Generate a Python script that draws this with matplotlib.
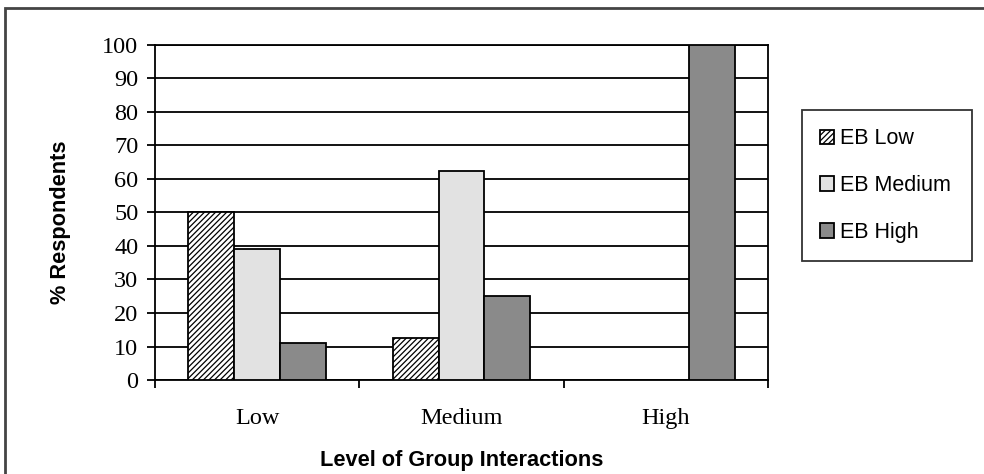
import matplotlib.pyplot as plt
from matplotlib.patches import Rectangle
import numpy as np

# data
categories = ["Low", "Medium", "High"]
series_names = ["EB Low", "EB Medium", "EB High"]
eb_low = [50, 12.5, 0]
eb_medium = [39, 62.5, 0]
eb_high = [11, 25, 100]

fig = plt.figure(figsize=(9.84, 4.74), dpi=100)
ax = fig.add_axes([0.1575, 0.1983, 0.623, 0.7068])

x = np.arange(len(categories)) + 0.5
w = 0.225
plt.rcParams['hatch.linewidth'] = 0.9

styles = [
    dict(facecolor="white", hatch="//////"),
    dict(facecolor="#e2e2e2", hatch=None),
    dict(facecolor="#8a8a8a", hatch=None),
]
for i, (vals, name, st) in enumerate(zip([eb_low, eb_medium, eb_high], series_names, styles)):
    ax.bar(x + (i - 1) * w, vals, w, label=name, edgecolor="black", linewidth=1.3,
           zorder=3, **st)

ax.set_xlim(0, 3)
ax.set_ylim(0, 100)
ax.set_yticks(range(0, 101, 10))
ax.yaxis.grid(True, color="black", linewidth=1.3, zorder=0)
ax.set_axisbelow(True)

# category ticks at boundaries, labels at centres
ax.set_xticks([0, 1, 2, 3])
ax.set_xticklabels([])
ax.set_xticks(x, minor=True)
ax.set_xticklabels(categories, minor=True, family="Liberation Serif", fontsize=17.5)
ax.tick_params(axis="x", which="major", direction="out", length=6, width=1.3)
ax.tick_params(axis="x", which="minor", length=0, pad=20)
ax.tick_params(axis="y", direction="out", length=6, width=1.3, pad=6)
for lab in ax.get_yticklabels():
    lab.set_family("Liberation Serif")
    lab.set_fontsize(17.5)

for s in ax.spines.values():
    s.set_linewidth(1.3)

ax.set_ylabel("% Respondents", family="Liberation Sans", fontweight="bold", fontsize=15.7)
ax.yaxis.set_label_coords(-0.137, 0.47)
ax.set_xlabel("Level of Group Interactions", family="Liberation Sans",
              fontweight="bold", fontsize=15.7, labelpad=15)

leg = ax.legend(loc="upper left", bbox_to_anchor=(802 / 984, 1 - 257 / 474, 170 / 984, 147 / 474),
                bbox_transform=fig.transFigure, mode="expand",
                prop={"family": "Liberation Sans", "size": 15.5},
                frameon=True, fancybox=False, edgecolor="black",
                handlelength=0.65, handleheight=0.65, handletextpad=0.25,
                labelspacing=1.2, borderpad=0.85, borderaxespad=0)
leg.get_frame().set_linewidth(1.3)

# outer frame
fig.patches.append(Rectangle((5 / 984, -0.1), 1.2, 1 - 8 / 474 + 0.1, transform=fig.transFigure,
                             fill=False, edgecolor="#444444", linewidth=2, clip_on=False))

fig.savefig("out.png", dpi=100)
